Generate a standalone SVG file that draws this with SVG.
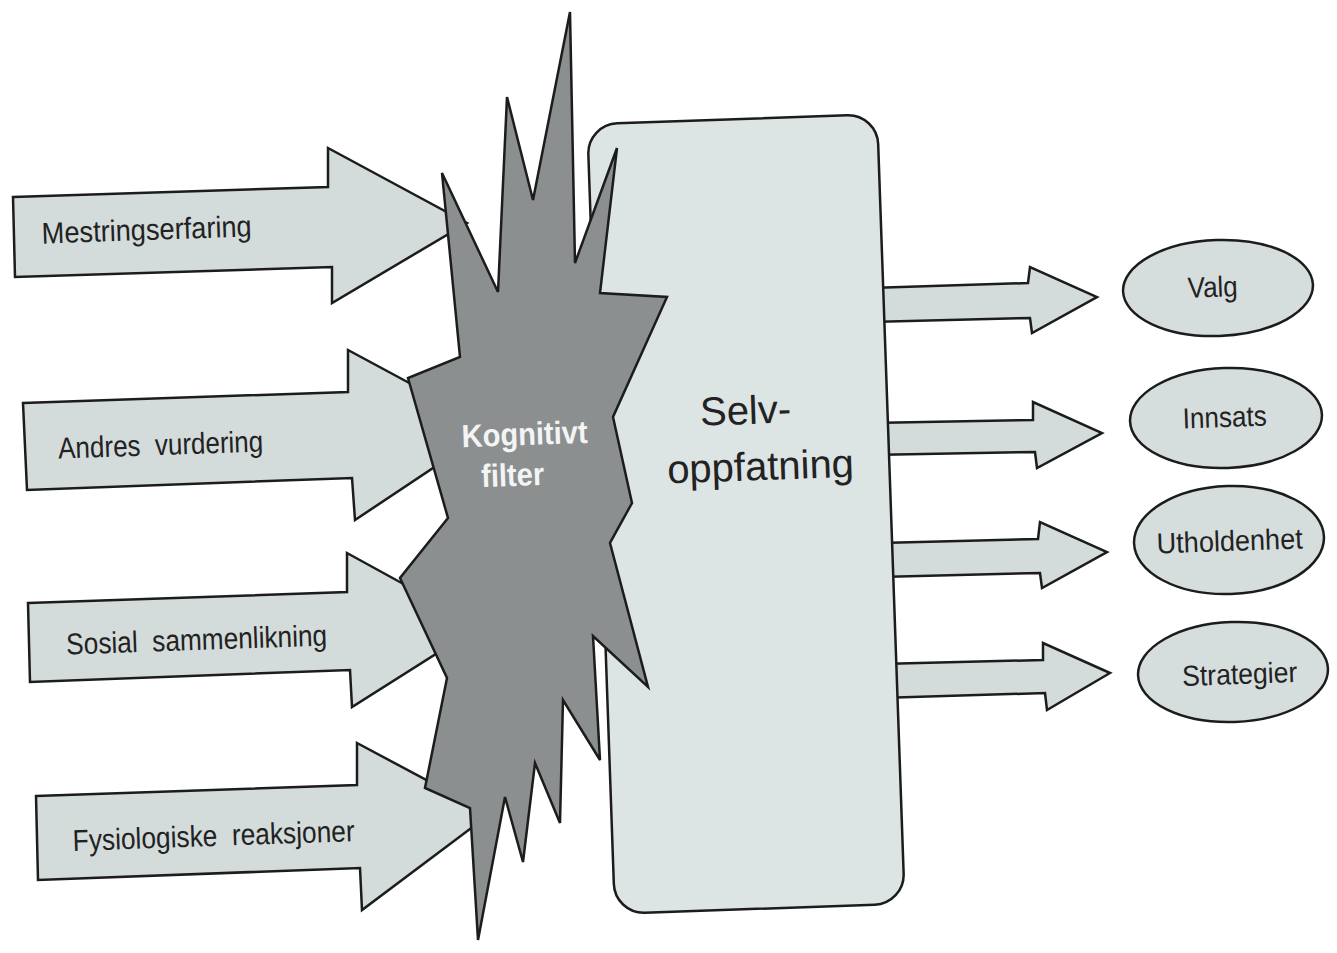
<svg xmlns="http://www.w3.org/2000/svg" width="1337" height="953" viewBox="0 0 1337 953">
<style>
.arr{fill:#d4dbdb;stroke:#1c1c1c;stroke-width:2.5;stroke-linejoin:miter}
.box{fill:#dde4e4;stroke:#1c1c1c;stroke-width:2.5}
.star{fill:#8b8f90;stroke:#1c1c1c;stroke-width:2.5;stroke-linejoin:miter}
.ell{fill:#d6dddd;stroke:#1c1c1c;stroke-width:2.5}
.lbl{font-family:"Liberation Sans",Arial,sans-serif;fill:#222;text-anchor:middle}
.wl{font-family:"Liberation Sans",Arial,sans-serif;fill:#f4f4f4;font-weight:bold;text-anchor:middle}
</style>
<rect width="1337" height="953" fill="#ffffff"/>
<g id="connectors">
  <polygon class="arr" points="870,288 1028,283 1030,267 1097,297 1032,333 1030,318 870,322"/>
  <polygon class="arr" points="870,423 1033,420 1033,402 1102,433 1037,468 1035,452 870,455"/>
  <polygon class="arr" points="880,543 1038,539 1040,522 1107,552 1042,588 1040,573 880,577"/>
  <polygon class="arr" points="880,664 1043,660 1043,643 1110,673 1047,710 1045,693 880,698"/>
</g>
<g id="in1">
  <polygon class="arr" points="13,197 328,187 328,148 467,223 332,303 332,267 15,277"/>
  <text class="lbl" font-size="30" transform="translate(147,240) rotate(-2)" textLength="210" lengthAdjust="spacingAndGlyphs">Mestringserfaring</text>
</g>
<g id="in2">
  <polygon class="arr" points="23,403 348,392 348,350 493,428 355,520 352,478 27,490"/>
  <text class="lbl" font-size="30" transform="translate(161,455) rotate(-2)" textLength="205" lengthAdjust="spacingAndGlyphs" xml:space="preserve">Andres  vurdering</text>
</g>
<g id="in3">
  <polygon class="arr" points="28,603 347,592 347,553 480,626 352,707 350,670 30,682"/>
  <text class="lbl" font-size="30" transform="translate(197,650) rotate(-2)" textLength="261" lengthAdjust="spacingAndGlyphs" xml:space="preserve">Sosial  sammenlikning</text>
</g>
<g id="in4">
  <polygon class="arr" points="36,796 357,785 357,743 490,814 362,910 360,868 38,880"/>
  <text class="lbl" font-size="30" transform="translate(214,846) rotate(-2)" textLength="282" lengthAdjust="spacingAndGlyphs" xml:space="preserve">Fysiologiske  reaksjoner</text>
</g>
<g id="selvoppfatning">
  <rect class="box" x="601" y="119" width="290" height="790" rx="30" ry="30" transform="rotate(-2 746 514)"/>
  <text class="lbl" font-size="40" transform="translate(746,424) rotate(-2)">Selv-</text>
  <text class="lbl" font-size="40" transform="translate(761,480) rotate(-2)">oppfatning</text>
</g>
<g id="filter">
  <polygon class="star" points="442,173 498,292 507,97 533,200 570,12 575,263 617,148 600,293 667,297 613,417 632,503 610,543 648,687 593,636 600,760 563,700 560,823 535,763 523,862 505,797 478,940 470,808 425,788 447,678 400,578 448,518 408,378 460,357"/>
  <text class="wl" font-size="32" transform="translate(525,445) rotate(-2)" textLength="126" lengthAdjust="spacingAndGlyphs">Kognitivt</text>
  <text class="wl" font-size="32" transform="translate(513,486) rotate(-2)" textLength="63" lengthAdjust="spacingAndGlyphs">filter</text>
</g>
<g id="valg">
  <ellipse class="ell" cx="1218" cy="288" rx="95" ry="48" transform="rotate(-2 1218 288)"/>
  <text class="lbl" font-size="29" transform="translate(1213,297) rotate(-2)" textLength="50" lengthAdjust="spacingAndGlyphs">Valg</text>
</g>
<g id="innsats">
  <ellipse class="ell" cx="1226" cy="418" rx="96" ry="50" transform="rotate(-2 1226 418)"/>
  <text class="lbl" font-size="29" transform="translate(1225,427) rotate(-2)" textLength="84" lengthAdjust="spacingAndGlyphs">Innsats</text>
</g>
<g id="utholdenhet">
  <ellipse class="ell" cx="1229" cy="540" rx="95" ry="54" transform="rotate(-2 1229 540)"/>
  <text class="lbl" font-size="29" transform="translate(1230,551) rotate(-2)" textLength="146" lengthAdjust="spacingAndGlyphs">Utholdenhet</text>
</g>
<g id="strategier">
  <ellipse class="ell" cx="1233" cy="672" rx="95" ry="50" transform="rotate(-2 1233 672)"/>
  <text class="lbl" font-size="29" transform="translate(1240,684) rotate(-2)" textLength="115" lengthAdjust="spacingAndGlyphs">Strategier</text>
</g>
</svg>
